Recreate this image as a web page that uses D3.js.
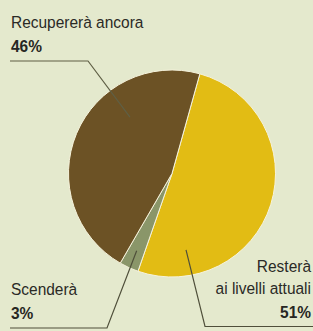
<!DOCTYPE html>
<html>
<head>
<meta charset="utf-8">
<script src="https://cdn.jsdelivr.net/npm/d3@7"></script>
<style>
  html, body { margin: 0; padding: 0; background: #e4e9cd; overflow: hidden; }
  svg { display: block; }
</style>
</head>
<body>
<svg id="chart" width="313" height="331"></svg>
<script>
// Data
const categories = ["Resterà ai livelli attuali", "Scenderà", "Recupererà ancora"];
const values = [51, 3, 46];
const labelLines = [["Resterà", "ai livelli attuali"], ["Scenderà"], ["Recupererà ancora"]];
const percentLabels = ["51%", "3%", "46%"];

const colors = ["#e2bc14", "#8a9669", "#6c5225"];

const W = 313, H = 331;
const svg = d3.select("#chart");
svg.append("rect").attr("width", W).attr("height", H).attr("fill", "#e4e9cd");

const cx = 172, cy = 173.5, r = 103.5;
const start = 15.6 * Math.PI / 180;
const pie = d3.pie().sort(null).value(d => d).startAngle(start).endAngle(start + 2 * Math.PI);
const arc = d3.arc().innerRadius(0).outerRadius(r);
const arcs = pie(values);

const g = svg.append("g").attr("transform", `translate(${cx},${cy})`);
g.selectAll("path").data(arcs).join("path")
  .attr("d", arc)
  .attr("fill", (d, i) => colors[i])
  .attr("stroke", "#f6f3dc")
  .attr("stroke-width", 1);

function polar(a, f) {
  return [cx + Math.sin(a) * r * f, cy - Math.cos(a) * r * f];
}
function inner(d, f) {
  return polar((d.startAngle + d.endAngle) / 2, f);
}
const lineColor = "#4f4f3a";
const line = d3.line();

// Resterà (yellow)
svg.append("path").attr("d", line([polar(2.96, 0.75), [205, 326.5], [W, 326.5]]))
  .attr("fill", "none").attr("stroke", lineColor).attr("stroke-width", 1.2);
// Scenderà (green)
svg.append("path").attr("d", line([inner(arcs[1], 0.82), [107, 328], [10, 328]]))
  .attr("fill", "none").attr("stroke", lineColor).attr("stroke-width", 1.2);
// Recupererà (brown)
svg.append("path").attr("d", line([polar(-0.64, 0.68), [88, 61], [10, 61]]))
  .attr("fill", "none").attr("stroke", "#5f5f45").attr("stroke-width", 1.2);

// Labels
const font = "'Liberation Sans', Arial, sans-serif";
const sx = 0.91;
function label(x, y, lines, pct, anchor) {
  const gg = svg.append("g").attr("transform", `translate(${x},${y}) scale(${sx},1)`);
  lines.forEach((t, i) => {
    gg.append("text").attr("x", 0).attr("y", i * 22)
      .attr("text-anchor", anchor)
      .attr("font-family", font).attr("font-size", 17)
      .attr("fill", "#2a2a26").text(t);
  });
  gg.append("text").attr("x", 0).attr("y", lines.length * 22 + 2)
    .attr("text-anchor", anchor)
    .attr("font-family", font).attr("font-size", 17).attr("font-weight", "bold")
    .attr("fill", "#262622").text(pct);
}
label(11, 28, labelLines[2], percentLabels[2], "start");
label(11, 295, labelLines[1], percentLabels[1], "start");
label(311, 272, labelLines[0], percentLabels[0], "end");
</script>
</body>
</html>
